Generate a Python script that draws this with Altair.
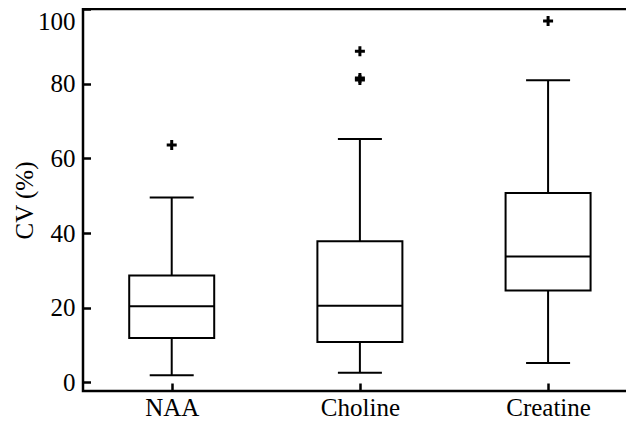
import altair as alt
import pandas as pd

categories = ["NAA", "Choline", "Creatine"]
whisker_low = [1.9, 2.6, 5.2]
q1 = [11.9, 10.8, 24.6]
median = [20.4, 20.5, 33.7]
q3 = [28.6, 37.8, 50.7]
whisker_high = [49.5, 65.2, 80.9]
outlier_cat = ["NAA", "Choline", "Choline", "Choline", "Creatine"]
outlier_val = [63.6, 88.7, 81.0, 81.5, 96.8]
y_ticks = [0, 20, 40, 60, 80, 100]

box = pd.DataFrame({
    "cat": categories, "lo": whisker_low, "q1": q1,
    "med": median, "q3": q3, "hi": whisker_high,
})
out = pd.DataFrame({"cat": outlier_cat, "v": outlier_val})

FONT = "Liberation Serif, Times New Roman, serif"
ysc = alt.Scale(domain=[-2.3, 100], nice=False, zero=False)
xsc = alt.Scale(type="point", padding=0.464, align=0.508)

xenc = alt.X("cat:N", sort=categories, scale=xsc, title=None,
             axis=alt.Axis(labelAngle=0, domain=False, tickSize=8, offset=-8,
                           labelPadding=4, labelFont=FONT, labelFontSize=25))
yaxis = alt.Axis(values=y_ticks, domain=False, grid=False, tickSize=7.5, offset=-7.5,
                 labelPadding=8, titlePadding=0, labelFlush=True,
                 labelFont=FONT, labelFontSize=25)


def yenc(field):
    return alt.Y(f"{field}:Q", scale=ysc, title="CV (%)", axis=yaxis)


base = alt.Chart(box).encode(x=xenc)

whisk = base.mark_rule(color="black", strokeWidth=2).encode(
    y=yenc("lo"), y2="hi")
boxes = base.mark_bar(size=85, fill="white", stroke="black", strokeWidth=2).encode(
    y=yenc("q1"), y2="q3")
meds = base.mark_tick(size=85, thickness=2, color="black", opacity=1).encode(y=yenc("med"))
cap_lo = base.mark_tick(size=44, thickness=2, color="black", opacity=1).encode(y=yenc("lo"))
cap_hi = base.mark_tick(size=44, thickness=2, color="black", opacity=1).encode(y=yenc("hi"))
pts = alt.Chart(out).mark_point(
    shape="M-1,-0.3H1V0.3H-1Z M-0.3,-1H0.3V1H-0.3Z", filled=True, size=100,
    color="black", opacity=1).encode(x=xenc, y=yenc("v"))

chart = alt.layer(whisk, boxes, meds, cap_lo, cap_hi, pts).properties(
    width=551, height=382,
    autosize=alt.AutoSizeParams(type="none"),
    padding={"left": 75, "top": 1, "right": -8, "bottom": 26},
    background="white",
).configure(
    font=FONT,
    style={"guide-label": {"font": FONT, "fontSize": 25}},
).configure_view(
    stroke="black", strokeWidth=2.5
).configure_axis(
    labelFont=FONT, labelFontSize=25, labelColor="black",
    titleFont=FONT, titleFontSize=25, titleFontWeight="normal", titleColor="black",
    tickColor="black", tickWidth=2.5,
)

chart.save("out.html", embed_options={"renderer": "svg", "actions": False})
